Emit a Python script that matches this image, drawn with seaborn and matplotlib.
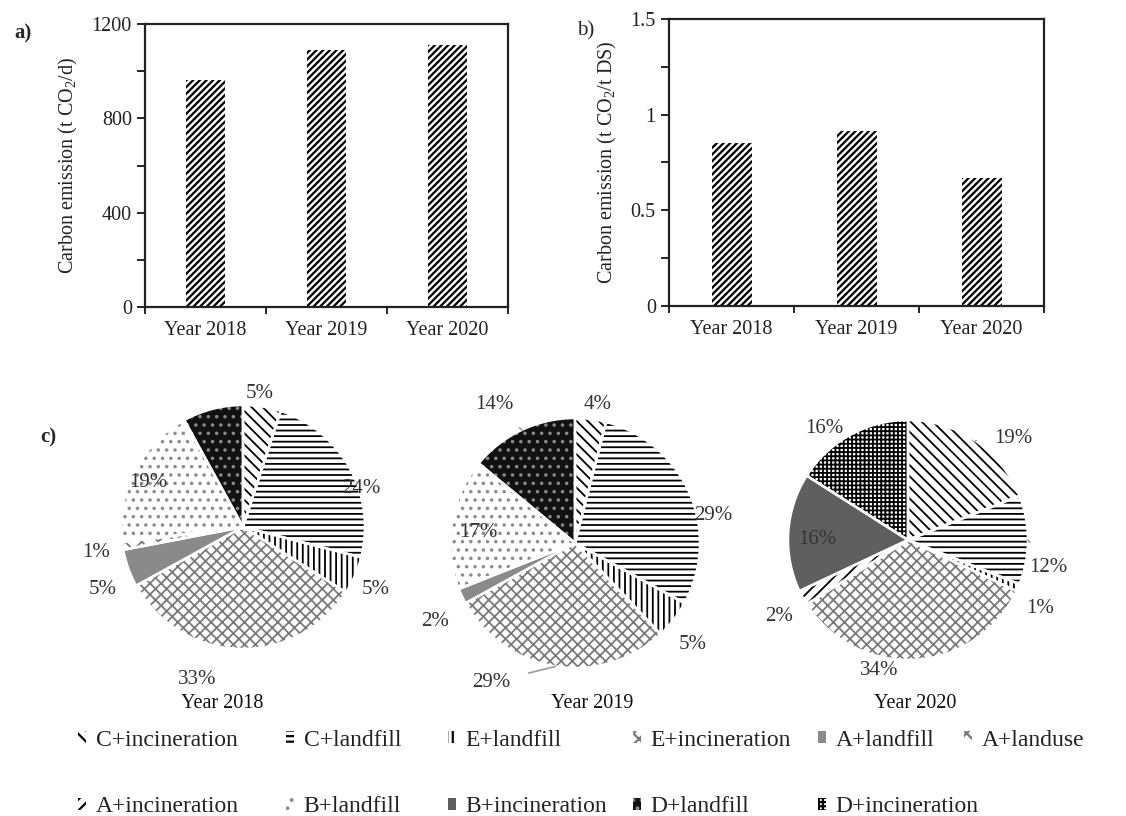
import numpy as np
import matplotlib
matplotlib.use('Agg')
import matplotlib.pyplot as plt
from matplotlib.patches import Patch
import seaborn as sns

# data
years = ['Year 2018', 'Year 2019', 'Year 2020']
emission_per_day = [962, 1090, 1111]          # t CO2/d
emission_per_ds = [0.852, 0.915, 0.669]       # t CO2/t DS

categories = ['C+incineration', 'C+landfill', 'E+landfill', 'E+incineration',
              'A+landfill', 'A+landuse', 'A+incineration', 'B+landfill',
              'B+incineration', 'D+landfill', 'D+incineration']
share_2018 = [5, 24, 5, 33, 5, 1, 0, 19, 0, 8, 0]
share_2019 = [4, 29, 5, 29, 2, 0, 0, 17, 0, 14, 0]
share_2020 = [19, 12, 1, 34, 0, 0, 2, 0, 16, 0, 16]

# styles: facecolor, hatch, hatch colour
styles = {
    'C+incineration': ('white', '\\\\\\', 'black'),
    'C+landfill': ('white', '---', 'black'),
    'E+landfill': ('white', '|||', 'black'),
    'E+incineration': ('white', 'xxx', '#7a7a7a'),
    'A+landfill': ('#8a8a8a', '', '#8a8a8a'),
    'A+landuse': ('white', 'xx', '#777777'),
    'A+incineration': ('white', '///', 'black'),
    'B+landfill': ('white', '..', '#8c8c8c'),
    'B+incineration': ('#5f5f5f', '', '#5f5f5f'),
    'D+landfill': ('#111111', '..', '#8a8a8a'),
    'D+incineration': ('white', '++++', 'black'),
}

W, H = 1126, 816


def rect(l, t, r, b):
    return [l / W, 1 - b / H, (r - l) / W, (b - t) / H]


sns.set_theme(style='ticks')
plt.rcParams['font.family'] = ['Liberation Serif', 'DejaVu Serif']
plt.rcParams['mathtext.fontset'] = 'custom'
plt.rcParams['mathtext.rm'] = 'Liberation Serif'
plt.rcParams['mathtext.it'] = 'Liberation Serif:italic'
plt.rcParams['axes.edgecolor'] = 'black'
plt.rcParams['hatch.linewidth'] = 1.6

fig = plt.figure(figsize=(11.26, 8.16), dpi=100)


def style_bar_axis(ax, ymax, major, minor, labels):
    ax.set_xlim(-0.5, 2.5)
    ax.set_ylim(0, ymax)
    ax.set_yticks(major)
    ax.set_yticklabels(labels)
    ax.set_yticks(minor, minor=True)
    ax.set_xticks([0, 1, 2])
    ax.set_xticks([-0.5, 0.5, 1.5, 2.5], minor=True)
    ax.tick_params(axis='x', which='major', length=0, pad=10, labelsize=14.5, colors='#222222')
    ax.tick_params(axis='x', which='minor', length=5, width=1.2, direction='out')
    ax.tick_params(axis='y', which='both', length=6, width=1.2, direction='out', labelsize=14.5,
                   colors='#222222')
    ax.tick_params(axis='both', which='both', color='black')
    ax.set_xlabel('')
    for s in ax.spines.values():
        s.set_visible(True)
        s.set_linewidth(1.6)
        s.set_color('#222222')


# a) per day
ax_a = fig.add_axes(rect(145, 24, 508, 307))
sns.barplot(x=years, y=emission_per_day, ax=ax_a, color='white', width=0.33,
            hatch='/////', edgecolor='black', linewidth=0)
style_bar_axis(ax_a, 1200, [0, 400, 800, 1200], [200, 600, 1000], ['0', '400', '800', '1200'])
ax_a.set_ylabel('Carbon emission (t CO$_2$/d)', fontsize=14.5, color='#222222', labelpad=8)

# b) per dry solid
ax_b = fig.add_axes(rect(669, 19, 1044, 306))
sns.barplot(x=years, y=emission_per_ds, ax=ax_b, color='white', width=0.32,
            hatch='/////', edgecolor='black', linewidth=0)
style_bar_axis(ax_b, 1.5, [0, 0.5, 1.0, 1.5], [0.25, 0.75, 1.25], ['0', '0.5', '1', '1.5'])
ax_b.set_ylabel('Carbon emission (t CO$_2$/t DS)', fontsize=14.5, color='#222222', labelpad=8)

fig.text(23 / W, 1 - 33 / H, 'a)', fontsize=15, fontweight='bold', ha='center', va='center')
fig.text(586 / W, 1 - 31 / H, 'b)', fontsize=15, ha='center', va='center')
fig.text(48 / W, 1 - 437 / H, 'c)', fontsize=15, fontweight='bold', ha='center', va='center')

# c) pies
pie_data = {'2018': share_2018, '2019': share_2019, '2020': share_2020}
pie_geom = {'2018': (243, 527, 122, 222, 703),
            '2019': (575, 543, 125, 592, 704),
            '2020': (908, 540, 120, 915, 703)}
# label radius and angle shift per slice
label_layout = {
    '2018': {'C+incineration': (1.1, 2), 'C+landfill': (1.02, -11), 'E+landfill': (1.2, -2),
             'E+incineration': (1.31, -15), 'A+landfill': (1.26, 4), 'A+landuse': (1.22, 1),
             'B+landfill': (0.86, 2)},
    '2019': {'C+incineration': (1.12, -2), 'C+landfill': (1.13, -12), 'E+landfill': (1.24, -3),
             'E+incineration': (1.3, -22), 'A+landfill': (1.28, 4), 'B+landfill': (0.78, 3),
             'D+landfill': (1.28, 5)},
    '2020': {'C+incineration': (1.22, -12), 'C+landfill': (1.19, -11), 'E+landfill': (1.24, -4),
             'E+incineration': (1.11, -16), 'A+incineration': (1.25, 2),
             'B+incineration': (0.76, 3), 'D+incineration': (1.16, 8)},
}
leaders = [('2019', 'E+incineration'), ('2019', 'D+landfill'),
           ('2020', 'C+incineration'), ('2020', 'C+landfill')]

k = 1.6
for yr, shares in pie_data.items():
    cx, cy, r, tx, ty = pie_geom[yr]
    ax = fig.add_axes(rect(cx - k * r, cy - k * r, cx + k * r, cy + k * r))
    cats = [c for c, v in zip(categories, shares) if v > 0]
    vals = [v for v in shares if v > 0]
    wedges, _ = ax.pie(vals, startangle=90, counterclock=False, radius=1,
                       colors=[styles[c][0] for c in cats],
                       wedgeprops=dict(linewidth=0))
    for w, c in zip(wedges, cats):
        w.set_hatch(styles[c][1])
        w.set_edgecolor(styles[c][2])
        w.set_linewidth(0)
        if hasattr(w, 'set_hatch_linewidth'):
            w.set_hatch_linewidth(1.3)
    ax.pie(vals, startangle=90, counterclock=False, radius=1, colors=['none'] * len(vals),
           wedgeprops=dict(edgecolor='white', linewidth=1.8))
    ax.set_xlim(-k, k)
    ax.set_ylim(-k, k)
    ax.set_aspect('equal')
    ax.axis('off')
    for w, c, v in zip(wedges, cats, vals):
        if c not in label_layout[yr]:
            continue
        rl, dang = label_layout[yr][c]
        mid = (w.theta1 + w.theta2) / 2
        ang = np.deg2rad(mid + dang)
        pos = (rl * np.cos(ang), rl * np.sin(ang))
        if (yr, c) in leaders:
            edge = (np.cos(np.deg2rad(mid)), np.sin(np.deg2rad(mid)))
            ax.annotate(f'{v}%', xy=edge, xytext=pos, ha='center', va='center',
                        fontsize=15, color='#333333',
                        arrowprops=dict(arrowstyle='-', color='#9a9a9a', lw=1.2,
                                        shrinkA=11, shrinkB=0))
        else:
            ax.text(pos[0], pos[1], f'{v}%', ha='center', va='center', fontsize=15, color='#333333')
    ax.text((tx - cx) / r, -(ty - cy) / r, f'Year {yr}', ha='center', va='center',
            fontsize=14.5, color='#111111')

# legend
legend_pos = {
    'C+incineration': (82, 740), 'C+landfill': (290, 740), 'E+landfill': (452, 740),
    'E+incineration': (637, 740), 'A+landfill': (822, 740), 'A+landuse': (968, 740),
    'A+incineration': (82, 807), 'B+landfill': (290, 807), 'B+incineration': (452, 807),
    'D+landfill': (637, 807), 'D+incineration': (822, 807),
}
for c in categories:
    face, hatch, hcol = styles[c]
    h = Patch(facecolor=face, edgecolor=hcol, hatch=hatch, linewidth=0)
    x, y = legend_pos[c]
    fig.legend(handles=[h], labels=[c], loc='center left', bbox_to_anchor=((x - 4) / W, 1 - y / H),
               frameon=False, borderpad=0, borderaxespad=0, handlelength=0.35, handleheight=0.45,
               handletextpad=0.4, prop={'size': 17}, labelcolor='#222222')

fig.savefig('out.png', dpi=100, facecolor='white')
